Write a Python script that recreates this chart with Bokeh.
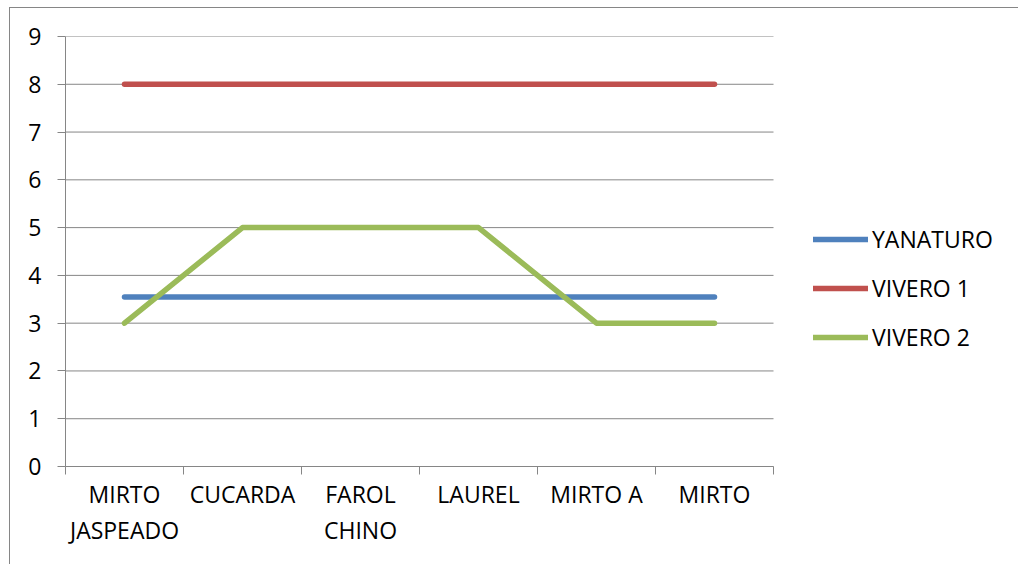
from bokeh.plotting import figure
from bokeh.models import Range1d, FixedTicker, Legend, LegendItem
from bokeh.embed import file_html
from bokeh.resources import INLINE

categories = ["MIRTO JASPEADO", "CUCARDA", "FAROL CHINO", "LAUREL", "MIRTO A", "MIRTO"]
tick_labels = ["MIRTO\nJASPEADO", "CUCARDA", "FAROL\nCHINO", "LAUREL", "MIRTO A", "MIRTO"]
yanaturo = [3.55, 3.55, 3.55, 3.55, 3.55, 3.55]
vivero1 = [8, 8, 8, 8, 8, 8]
vivero2 = [3, 5, 5, 5, 3, 3]
y_ticks = [0, 1, 2, 3, 4, 5, 6, 7, 8, 9]

FONT = "Open Sans"
FS = "23px"
GRAY = "#868686"

n = len(categories)
xs = [i + 0.5 for i in range(n)]

# frame spans to the right edge so the legend can sit inside it;
# category axis occupies the first 708 px of a 954 px frame
x_end = n * 954 / 708

p = figure(width=1009, height=557, output_backend="svg", toolbar_location=None,
           x_range=Range1d(0, x_end), y_range=Range1d(0, 9),
           min_border_left=55, min_border_right=0, min_border_top=28, min_border_bottom=99)
p.styles = {"margin-left": "9px", "margin-top": "7px",
            "border-top": "1px solid #868686", "border-left": "1px solid #868686"}
p.outline_line_color = None
p.background_fill_color = "white"
p.border_fill_color = "white"

# horizontal gridlines limited to the category span
p.xgrid.grid_line_color = None
p.ygrid.grid_line_color = None
p.segment(x0=[0] * len(y_ticks), x1=[n] * len(y_ticks), y0=y_ticks, y1=y_ticks,
          line_color=GRAY, line_width=1)

r1 = p.line(xs, yanaturo, line_color="#4F81BD", line_width=5.5, line_cap="round", line_join="round")
r2 = p.line(xs, vivero1, line_color="#C0504D", line_width=5.5, line_cap="round", line_join="round")
r3 = p.line(xs, vivero2, line_color="#9BBB59", line_width=5.5, line_cap="round", line_join="round")

# y axis
p.yaxis.ticker = FixedTicker(ticks=y_ticks)
p.yaxis.axis_line_color = GRAY
p.yaxis.major_tick_line_color = GRAY
p.yaxis.major_tick_out = 8
p.yaxis.major_tick_in = 0
p.yaxis.minor_tick_line_color = None
p.yaxis.major_label_text_font = FONT
p.yaxis.major_label_text_font_size = FS
p.yaxis.major_label_text_color = "black"
p.yaxis.major_label_standoff = 16

# x axis
p.xaxis.bounds = (0, n)
p.xaxis.ticker = FixedTicker(ticks=xs, minor_ticks=list(range(n + 1)))
p.xaxis.major_label_overrides = {x: lab for x, lab in zip(xs, tick_labels)}
p.xaxis.axis_line_color = GRAY
p.xaxis.major_tick_line_color = None
p.xaxis.minor_tick_line_color = GRAY
p.xaxis.minor_tick_out = 8
p.xaxis.minor_tick_in = 0
p.xaxis.major_tick_out = 8
p.xaxis.major_tick_in = 0
p.xaxis.major_label_text_font = FONT
p.xaxis.major_label_text_font_size = FS
p.xaxis.major_label_text_color = "black"
p.xaxis.major_label_text_line_height = 1.15
p.xaxis.major_label_standoff = 3

legend = Legend(items=[
    LegendItem(label="YANATURO", renderers=[r1]),
    LegendItem(label="VIVERO 1", renderers=[r2]),
    LegendItem(label="VIVERO 2", renderers=[r3]),
], location=(748, 113))
legend.border_line_color = None
legend.background_fill_alpha = 0
legend.padding = 0
legend.margin = 0
legend.spacing = 17
legend.glyph_width = 55
legend.glyph_height = 20
legend.label_height = 20
legend.label_standoff = 4
legend.label_text_font = FONT
legend.label_text_font_size = FS
legend.label_text_color = "black"
p.add_layout(legend, "center")

open("out.html", "w").write(file_html(p, INLINE))
